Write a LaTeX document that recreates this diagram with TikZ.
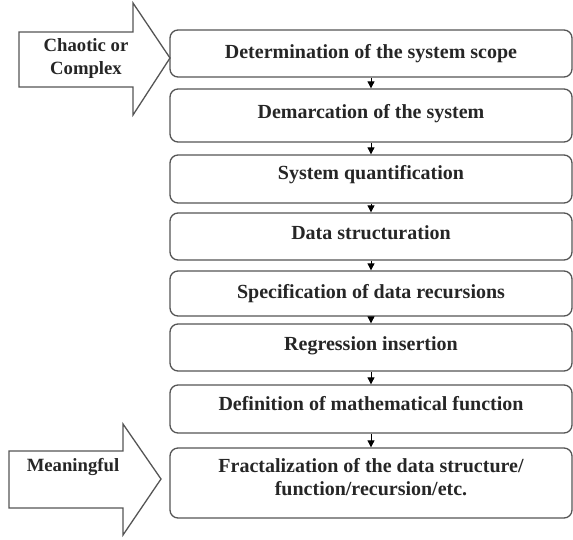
\documentclass[tikz,border=0pt]{standalone}
\usepackage{fontspec}
\setmainfont{Liberation Serif}
\usetikzlibrary{arrows.meta}
\definecolor{edge}{HTML}{555555}
\begin{document}
\begin{tikzpicture}[x=1pt,y=-1pt,
  stepbox/.style={draw=edge,line width=1.3pt,rounded corners=8pt,minimum width=402pt,
    inner sep=0pt,align=center,font=\bfseries\fontsize{20}{23}\selectfont,text=black!85,
    text height=14pt,text depth=4pt},
  lift/.style={text depth=#1},
  link/.style={line width=0.8pt,-{Triangle[width=7pt,length=7pt]}},
  bigarrow/.style={draw=edge,line width=1.3pt,fill=white,line join=miter},
  arrowtext/.style={align=center,font=\bfseries\fontsize{18.7}{23}\selectfont,text=black!85}]
\useasboundingbox (0,0) rectangle (573,539);
% process steps
\node[stepbox,minimum height=47pt] (b1) at (371,53.5) {Determination of the system scope};
\node[stepbox,lift=8pt,minimum height=53pt] (b2) at (371,115.5) {Demarcation of the system};
\node[stepbox,lift=14pt,minimum height=48pt] (b3) at (371,179) {System quantification};
\node[stepbox,lift=8pt,minimum height=47pt] (b4) at (371,236.5) {Data structuration};
\node[stepbox,minimum height=45pt] (b5) at (371,293.5) {Specification of data recursions};
\node[stepbox,lift=8pt,minimum height=47pt] (b6) at (371,347.5) {Regression insertion};
\node[stepbox,lift=12pt,minimum height=48pt] (b7) at (371,409) {Definition of mathematical function};
\node[stepbox,text height=37pt,lift=12pt,minimum height=70pt] (b8) at (371,483) {Fractalization of the data structure/\\function/recursion/etc.};
% connectors
\foreach \a/\b in {b1/b2,b2/b3,b3/b4,b4/b5,b5/b6,b6/b7,b7/b8}
  \draw[link] (\a.south) -- (\b.north);
% input arrow
\draw[bigarrow] (19,32) -- (133,32) -- (133,3) -- (170,58) -- (133,115) -- (133,87) -- (19,87) -- cycle;
\node[arrowtext] (inlabel) at (86,58) {Chaotic or\\Complex};
% output arrow
\draw[bigarrow] (9,451) -- (123,451) -- (123,424) -- (161,479) -- (123,535) -- (123,508) -- (9,508) -- cycle;
\node[arrowtext] (outlabel) at (73,467) {Meaningful};
\end{tikzpicture}
\end{document}
